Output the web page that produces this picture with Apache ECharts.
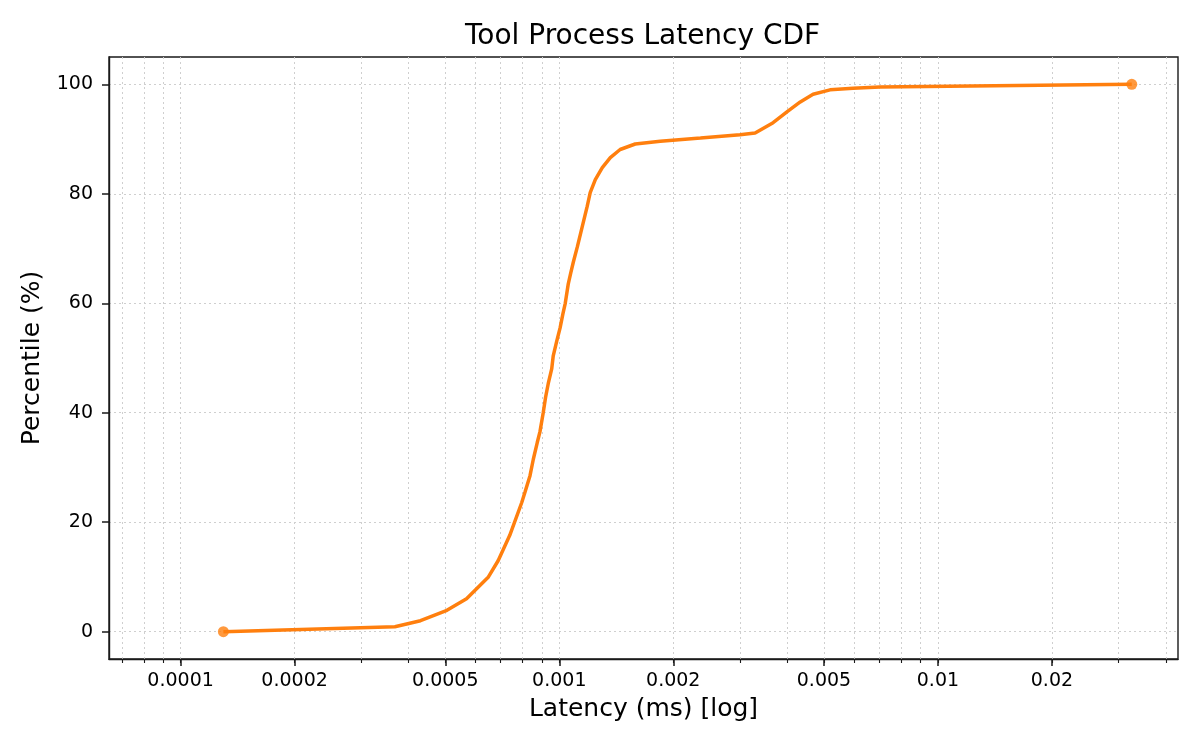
<!DOCTYPE html>
<html>
<head>
<meta charset="utf-8">
<title>Tool Process Latency CDF</title>
<script src="https://cdn.jsdelivr.net/npm/echarts@6/dist/echarts.min.js"></script>
<style>
  html, body { margin: 0; padding: 0; background: #fff; }
  #main { width: 1200px; height: 750px; }
</style>
</head>
<body>
<div id="main"></div>
<script>
// latency in ms and the cumulative percentile at each sample
var latency = [
  0.0001297, 0.000368, 0.00043, 0.000505, 0.000569, 0.00065, 0.00069, 0.00074,
  0.000796, 0.000812, 0.000837, 0.000854, 0.000875, 0.000889, 0.000907, 0.00092,
  0.000935, 0.000955, 0.000964, 0.000984, 0.001005, 0.001022, 0.001037, 0.001056,
  0.001072, 0.001089, 0.001116, 0.00115, 0.001185, 0.001207, 0.001245, 0.001299,
  0.001364, 0.001448, 0.001587, 0.001848, 0.00236, 0.003,
  0.00329, 0.00367, 0.004, 0.00433, 0.00468, 0.00519, 0.00597, 0.00703, 0.0325
];
var percentile = [
  0, 0.9, 2.0, 3.9, 6.0, 10.0, 13.0, 17.6,
  23.6, 25.5, 28.5, 31.5, 34.6, 36.5, 40.0, 42.8,
  45.3, 48.0, 50.4, 53.0, 55.5, 58.0, 60.0, 63.5,
  65.5, 67.5, 70.3, 74.0, 77.7, 80.2, 82.6, 84.8,
  86.6, 88.1, 89.1, 89.6, 90.2, 90.8,
  91.1, 93.0, 95.0, 96.8, 98.2, 99.0, 99.3, 99.5, 100
];

// axis ticks
var xTickValues = [0.0001, 0.0002, 0.0005, 0.001, 0.002, 0.005, 0.01, 0.02];
var xTickLabels = ['0.0001', '0.0002', '0.0005', '0.001', '0.002', '0.005', '0.01', '0.02'];
var xMinorValues = [
  0.00007, 0.00008, 0.00009,
  0.0001, 0.0002, 0.0003, 0.0004, 0.0005, 0.0006, 0.0007, 0.0008, 0.0009,
  0.001, 0.002, 0.003, 0.004, 0.005, 0.006, 0.007, 0.008, 0.009,
  0.01, 0.02, 0.03, 0.04
];
var yTickValues = [0, 20, 40, 60, 80, 100];
var xMin = 0.0000647, xMax = 0.04305;
var yMin = -5, yMax = 105;

var font = 'DejaVu Sans';
var orange = '#ff7f0e';
var ink = '#1a1a1a';
var gridLine = { color: '#cfcfcf', width: 1, type: [2, 3] };

var myChart = echarts.init(document.getElementById('main'));

var lineData = latency.map(function (v, i) { return [v, percentile[i]]; });
var last = latency.length - 1;
var endPoints = [[latency[0], percentile[0]], [latency[last], percentile[last]]];

function log10(v) { return Math.log10(v); }

var option = {
  animation: false,
  backgroundColor: '#fff',
  title: {
    text: 'Tool Process Latency CDF',
    left: 460,
    top: 18,
    textStyle: { fontFamily: font, fontSize: 28, fontWeight: 'normal', color: '#000' }
  },
  grid: {
    left: 109, right: 22, top: 57, bottom: 91,
    show: true,
    borderColor: ink,
    borderWidth: 1.4,
    outerBoundsMode: 'none'
  },
  xAxis: [
    { // labelled major ticks
      type: 'value',
      position: 'bottom',
      min: log10(xMin),
      max: log10(xMax),
      name: 'Latency (ms) [log]',
      nameLocation: 'middle',
      nameGap: 38,
      nameTextStyle: { fontFamily: font, fontSize: 25, color: '#000' },
      axisLine: { show: true, onZero: false, lineStyle: { color: ink, width: 1.4 } },
      axisTick: {
        show: true, inside: false, length: 7,
        customValues: xTickValues.map(log10),
        lineStyle: { color: ink, width: 1.5 }
      },
      axisLabel: {
        customValues: xTickValues.map(log10),
        margin: 13,
        fontFamily: font, fontSize: 19, color: '#000',
        formatter: function (v) {
          for (var i = 0; i < xTickValues.length; i++) {
            if (Math.abs(log10(xTickValues[i]) - v) < 1e-6) return xTickLabels[i];
          }
          return '';
        }
      },
      splitLine: { show: false }
    },
    { // minor ticks and the vertical grid
      type: 'value',
      position: 'bottom',
      min: log10(xMin),
      max: log10(xMax),
      axisLine: { show: false, onZero: false },
      axisTick: {
        show: true, inside: false, length: 4,
        customValues: xMinorValues.map(log10),
        lineStyle: { color: ink, width: 1.1 }
      },
      axisLabel: { show: false },
      splitLine: { show: true, lineStyle: gridLine }
    },
    { // data axis
      type: 'log',
      logBase: 10,
      min: xMin,
      max: xMax,
      axisLine: { onZero: false },
      show: false
    }
  ],
  yAxis: {
    type: 'value',
    min: yMin,
    max: yMax,
    name: 'Percentile (%)',
    nameLocation: 'middle',
    nameGap: 64,
    nameTextStyle: { fontFamily: font, fontSize: 25, color: '#000' },
    axisLine: { show: true, onZero: false, lineStyle: { color: ink, width: 1.4 } },
    axisTick: {
      show: true, length: 7,
      customValues: yTickValues,
      lineStyle: { color: ink, width: 1.5 }
    },
    axisLabel: {
      customValues: yTickValues,
      margin: 16,
      fontFamily: font, fontSize: 19, color: '#000'
    },
    splitLine: { show: true, lineStyle: gridLine }
  },
  series: [
    {
      name: 'CDF',
      type: 'line',
      xAxisIndex: 2,
      yAxisIndex: 0,
      data: lineData,
      symbol: 'none',
      smooth: false,
      color: orange,
      lineStyle: { color: orange, width: 3.5 },
      z: 3
    },
    {
      name: 'ends',
      type: 'scatter',
      xAxisIndex: 2,
      yAxisIndex: 0,
      data: endPoints,
      symbol: 'circle',
      symbolSize: 11,
      itemStyle: { color: orange },
      z: 4
    }
  ]
};

myChart.setOption(option);
</script>
</body>
</html>
